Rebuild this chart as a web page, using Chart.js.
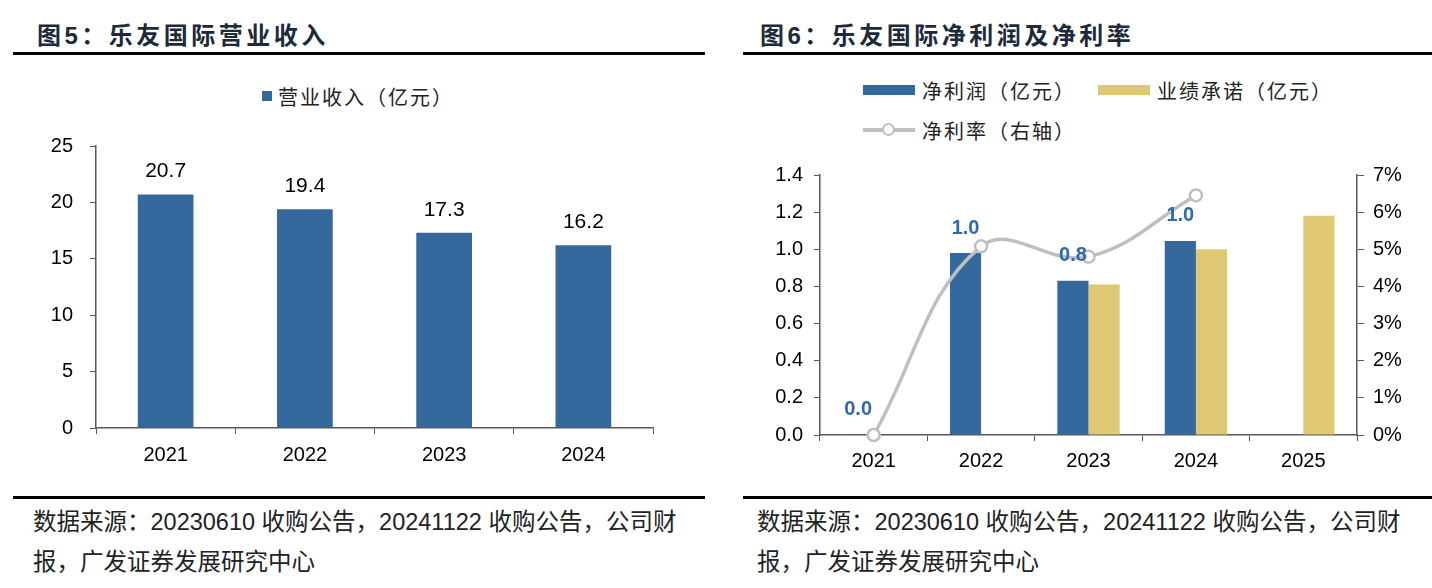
<!DOCTYPE html>
<html>
<head>
<meta charset="utf-8">
<script src="https://cdn.jsdelivr.net/npm/chart.js@4.4.0/dist/chart.umd.min.js"></script>
<style>
body { margin: 0; width: 1432px; height: 588px; background: #fff; position: relative; overflow: hidden;
       font-family: "Liberation Sans", "Noto Sans CJK SC", sans-serif; }
.title { position: absolute; top: 16px; font-size: 24px; font-weight: bold; color: #1d2a3a; letter-spacing: 3.5px; white-space: nowrap; }
.rule { position: absolute; height: 3px; background: #000; }
.src { position: absolute; font-size: 23.5px; line-height: 40px; color: #222; }
.box { position: absolute; }
.legend { position: absolute; font-size: 20px; color: #222; display: flex; flex-wrap: wrap; letter-spacing: 2px; }
.legend .item { display: flex; align-items: center; height: 40px; white-space: nowrap; }
.legend .item:not(:last-child) { margin-right: 22px; }
.legend .mark { margin-right: 7px; position: relative; }
</style>
</head>
<body>

<div class="title" style="left:37px;">图5：乐友国际营业收入</div>
<div class="rule" style="left:13px;width:692px;top:52px;"></div>
<div class="legend" id="legend1" style="left:0;top:76px;width:716px;justify-content:center;"></div>
<div class="box" style="left:0;top:117px;width:716px;height:363px;"><canvas id="revenueChart"></canvas></div>
<div class="rule" style="left:13px;width:692px;top:496px;"></div>
<div class="src" style="left:33px;top:502px;width:680px;">数据来源：20230610 收购公告，20241122 收购公告，公司财报，广发证券发展研究中心</div>

<div class="title" style="left:760px;">图6：乐友国际净利润及净利率</div>
<div class="rule" style="left:743px;width:689px;top:52px;"></div>
<div class="legend" id="legend2" style="left:863px;top:70px;width:540px;"></div>
<div class="box" style="left:716px;top:150px;width:716px;height:330px;"><canvas id="profitChart"></canvas></div>
<div class="rule" style="left:743px;width:689px;top:496px;"></div>
<div class="src" style="left:757px;top:502px;width:675px;">数据来源：20230610 收购公告，20241122 收购公告，公司财报，广发证券发展研究中心</div>

<script>
// data
const years1 = ['2021', '2022', '2023', '2024'];
const revenue = [20.7, 19.4, 17.3, 16.2];

const years2 = ['2021', '2022', '2023', '2024', '2025'];
const netProfit = [0.005, 0.98, 0.83, 1.045, null];
const commitment = [null, null, 0.81, 1.0, 1.18];
const netMargin = [0.0, 5.08, 4.8, 6.45, null];

const BLUE = '#35689d';
const GOLD = '#dfc872';
const GREY = '#bfbfbf';
const AXIS = '#595959';

// value labels above bars
const valueLabels = {
    id: 'valueLabels',
    afterDatasetsDraw(chart, args, opts) {
        const ctx = chart.ctx;
        const meta = chart.getDatasetMeta(opts.dataset);
        const data = chart.data.datasets[opts.dataset].data;
        ctx.save();
        ctx.font = opts.font;
        ctx.fillStyle = opts.color;
        ctx.textAlign = 'center';
        ctx.textBaseline = 'middle';
        meta.data.forEach((bar, i) => {
            if (data[i] == null) return;
            ctx.fillText(data[i].toFixed(1), bar.x, bar.y - opts.offset);
        });
        ctx.restore();
    }
};

// simple html legend built from the datasets
function buildLegend(chart, id, order) {
    const box = document.getElementById(id);
    box.innerHTML = '';
    order.forEach(i => {
        const ds = chart.data.datasets[i];
        const item = document.createElement('div');
        item.className = 'item';
        const mark = document.createElement('span');
        mark.className = 'mark';
        if (ds.type === 'line') {
            mark.style.cssText = 'width:52px;height:4px;background:' + ds.borderColor + ';';
            const dot = document.createElement('span');
            dot.style.cssText = 'position:absolute;left:19px;top:-5px;width:9px;height:9px;border-radius:50%;background:#fff;border:2.5px solid ' + ds.borderColor + ';';
            mark.appendChild(dot);
        } else if (id === 'legend1') {
            mark.style.cssText = 'width:10px;height:10px;background:' + ds.backgroundColor + ';margin-right:6px;';
        } else {
            mark.style.cssText = 'width:52px;height:10px;background:' + ds.backgroundColor + ';';
        }
        item.appendChild(mark);
        item.appendChild(document.createTextNode(ds.label));
        box.appendChild(item);
    });
}

const tickFont = { family: 'Liberation Sans', size: 20 };

new Chart(document.getElementById('revenueChart'), {
    type: 'bar',
    data: {
        labels: years1,
        datasets: [{
            label: '营业收入（亿元）',
            data: revenue,
            backgroundColor: BLUE,
            categoryPercentage: 1,
            barPercentage: 0.4
        }]
    },
    options: {
        responsive: true,
        maintainAspectRatio: false,
        animation: false,
        layout: { padding: { top: 0, left: 36, right: 63, bottom: 0 } },
        plugins: {
            legend: { display: false },
            tooltip: { enabled: false },
            valueLabels: { dataset: 0, font: '21px "Liberation Sans"', color: '#000', offset: 23 }
        },
        scales: {
            x: {
                grid: { offset: true, drawOnChartArea: false, tickLength: 6, color: AXIS },
                border: { color: AXIS, width: 1.5 },
                ticks: { font: tickFont, color: '#000', padding: 9 },
                afterFit(s) { s.height = 52; }
            },
            y: {
                min: 0, max: 25,
                grid: { drawOnChartArea: false, tickLength: 6, color: AXIS },
                border: { color: AXIS, width: 1.5 },
                ticks: { stepSize: 5, font: tickFont, color: '#000', padding: 17 },
                afterFit(s) { s.width = 60; }
            }
        }
    },
    plugins: [valueLabels, { id: 'lg1', afterUpdate(c) { buildLegend(c, 'legend1', [0]); } }]
});

new Chart(document.getElementById('profitChart'), {
    type: 'bar',
    data: {
        labels: years2,
        datasets: [{
            type: 'line',
            label: '净利率（右轴）',
            data: netMargin,
            yAxisID: 'y1',
            borderColor: GREY,
            borderWidth: 3.5,
            tension: 0.4,
            pointRadius: 6,
            pointBorderWidth: 2.5,
            pointBackgroundColor: '#fff',
            pointBorderColor: GREY,
            clip: false,
            order: 0
        }, {
            label: '净利润（亿元）',
            data: netProfit,
            backgroundColor: BLUE,
            categoryPercentage: 0.58,
            barPercentage: 1,
            order: 1
        }, {
            label: '业绩承诺（亿元）',
            data: commitment,
            backgroundColor: GOLD,
            categoryPercentage: 0.58,
            barPercentage: 1,
            order: 1
        }]
    },
    options: {
        responsive: true,
        maintainAspectRatio: false,
        animation: false,
        layout: { padding: { top: 25, left: 44, right: 10, bottom: 0 } },
        plugins: {
            legend: { display: false },
            tooltip: { enabled: false },
            valueLabels: { dataset: 1, font: 'bold 20px "Liberation Sans"', color: '#2f6aa9', offset: 25 }
        },
        scales: {
            x: {
                grid: { offset: true, drawOnChartArea: false, tickLength: 6, color: AXIS },
                border: { color: AXIS, width: 1.5 },
                ticks: { font: tickFont, color: '#000', padding: 8 },
                afterFit(s) { s.height = 45; }
            },
            y: {
                position: 'left',
                min: 0, max: 1.4,
                grid: { drawOnChartArea: false, tickLength: 6, color: AXIS },
                border: { color: AXIS, width: 1.5 },
                ticks: { stepSize: 0.2, font: tickFont, color: '#000', padding: 11,
                         callback: v => v.toFixed(1) },
                afterFit(s) { s.width = 60; }
            },
            y1: {
                position: 'right',
                min: 0, max: 7,
                grid: { drawOnChartArea: false, tickLength: 7, color: AXIS },
                border: { color: AXIS, width: 1.5 },
                ticks: { stepSize: 1, font: tickFont, color: '#000', padding: 9,
                         callback: v => v + '%' },
                afterFit(s) { s.width = 65; }
            }
        }
    },
    plugins: [valueLabels, { id: 'lg2', afterUpdate(c) { buildLegend(c, 'legend2', [1, 2, 0]); } }]
});
</script>
</body>
</html>
